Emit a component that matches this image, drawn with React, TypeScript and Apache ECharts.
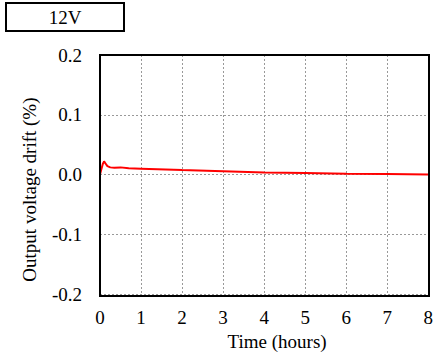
import React, { useEffect, useRef } from "react";
import * as echarts from "echarts";

const times = [0, 0.03, 0.07, 0.1, 0.13, 0.18, 0.25, 0.35, 0.5, 0.7, 1, 2, 3, 4, 5, 6, 7, 8];
const drift = [0.0, 0.008, 0.018, 0.022, 0.019, 0.014, 0.012, 0.0115, 0.012, 0.0105, 0.0098, 0.0075, 0.0055, 0.0035, 0.0025, 0.0015, 0.0008, 0.0];
const xTicks = [0, 1, 2, 3, 4, 5, 6, 7, 8];
const yTicks = ["-0.2", "-0.1", "0.0", "0.1", "0.2"];
const title = "12V";

export default function App() {
  const ref = useRef<HTMLDivElement>(null);
  useEffect(() => {
    const chart = echarts.init(ref.current!, null, { renderer: "svg" });
    const font = "Liberation Serif";
    chart.setOption({
      animation: false,
      textStyle: { fontFamily: font },
      graphic: [
        {
          type: "rect",
          shape: { x: 6, y: 3, width: 118, height: 28 },
          style: { fill: "#fff", stroke: "#000", lineWidth: 2 },
        },
        {
          type: "text",
          x: 65,
          y: 17,
          style: {
            text: title,
            fontSize: 19,
            fontFamily: font,
            fill: "#000",
            align: "center",
            verticalAlign: "middle",
          },
        },
        {
          type: "rect",
          shape: { x: 100, y: 55, width: 329, height: 241 },
          style: { fill: "none", stroke: "#000", lineWidth: 2 },
          silent: true,
          z: 10,
        },
      ],
      grid: { left: 100, top: 55, right: 7, bottom: 60 },
      xAxis: {
        type: "value",
        min: 0,
        max: 8,
        interval: 1,
        name: "Time (hours)",
        nameLocation: "middle",
        nameGap: 34,
        nameTextStyle: { fontSize: 19, color: "#000", fontFamily: font, padding: [0, 0, 0, 26] },
        axisLine: { show: false, onZero: false },
        axisTick: { show: false },
        axisLabel: {
          fontSize: 19,
          color: "#000",
          margin: 14,
          fontFamily: font,
          formatter: (v: number) => (xTicks.includes(v) ? String(v) : ""),
        },
        splitLine: { show: true, lineStyle: { color: "#999", type: [2, 2], width: 1 } },
      },
      yAxis: {
        type: "value",
        min: -0.2,
        max: 0.2,
        interval: 0.1,
        name: "Output voltage drift (%)",
        nameLocation: "middle",
        nameGap: 61,
        nameTextStyle: { fontSize: 19, color: "#000", fontFamily: font, padding: [0, 30, 0, 0] },
        axisLine: { show: false, onZero: false },
        axisTick: { show: false },
        axisLabel: {
          fontSize: 19,
          color: "#000",
          margin: 18,
          fontFamily: font,
          formatter: (v: number) => yTicks[Math.round((v + 0.2) * 10)] ?? "",
        },
        splitLine: { show: true, lineStyle: { color: "#999", type: [2, 2], width: 1 } },
      },
      series: [
        {
          type: "line",
          data: times.map((t, i) => [t, drift[i]]),
          showSymbol: false,
          smooth: false,
          lineStyle: { color: "#ff0000", width: 2 },
          itemStyle: { color: "#ff0000" },
        },
      ],
    });
    return () => chart.dispose();
  }, []);
  return <div ref={ref} style={{ width: 436, height: 356, position: "absolute", left: 0, top: 0 }} />;
}
